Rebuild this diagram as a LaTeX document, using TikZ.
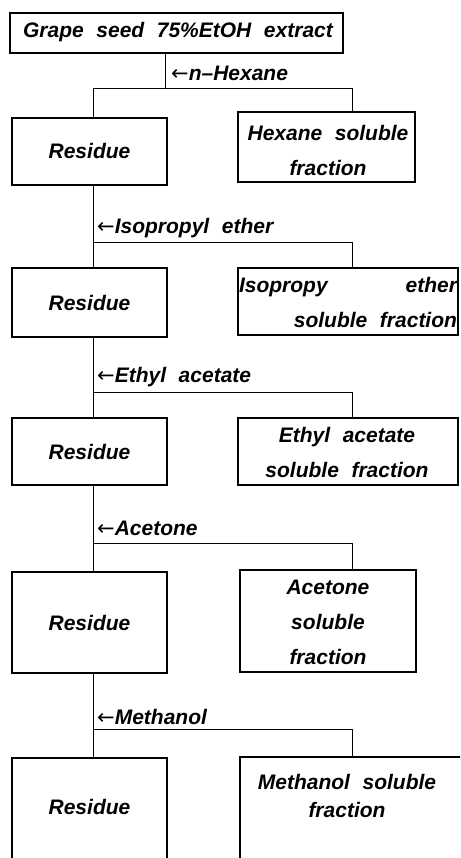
\documentclass[tikz,border=0pt]{standalone}
\usepackage{fontspec}
\setmainfont{Liberation Sans}
\newfontfamily\arrfont{DejaVu Sans}
\newcommand{\larr}{{\arrfont\mdseries\upshape ←}}
\newcommand{\mytf}{\fontsize{21}{35}\selectfont\bfseries\itshape\spaceskip 0.6em\relax}
\newcommand{\mytfb}{\fontsize{21}{28}\selectfont\bfseries\itshape\spaceskip 0.6em\relax}
\begin{document}
\begin{tikzpicture}[x=1pt,y=-1pt,
  txt/.style={inner sep=0pt, font=\mytf},
  box/.style={draw, line width=1.5pt, inner sep=0pt},
  lab/.style={txt, anchor=west},
  conn/.style={line width=0.7pt}]
\useasboundingbox (0,0) rectangle (460,858);
\begin{scope}
\clip (0,0) rectangle (460,858);
% boxes
\node[box, minimum width=333pt, minimum height=40pt] (top) at (176.5,33) {};
\node[txt] (topt) at (178,32) {Grape seed 75\%EtOH extract};
\node[box, minimum width=155pt, minimum height=67pt] (r1) at (89.5,151.5) {};
\node[txt] (r1t) at (r1.center) {Residue};
\node[box, minimum width=177pt, minimum height=70pt] (f1) at (326.5,147) {};
\node[txt, align=center] (f1t) at (328,150) {Hexane soluble\\fraction};
\node[box, minimum width=155pt, minimum height=69pt] (r2) at (89.5,302.5) {};
\node[txt] (r2t) at (r2.center) {Residue};
\node[box, minimum width=220pt, minimum height=67pt] (f2) at (348,301.5) {};
\node[txt, text width=218pt, align=left] (f2t) at (348,302) {Isopropy\hfill ether\\\hfill soluble\hspace{12.6pt}fraction};
\node[box, minimum width=155pt, minimum height=67pt] (r3) at (89.5,451.5) {};
\node[txt] (r3t) at (r3.center) {Residue};
\node[box, minimum width=220pt, minimum height=67pt] (f3) at (348,451.5) {};
\node[txt, align=center] (f3t) at (347,452) {Ethyl acetate\\soluble fraction};
\node[box, minimum width=155pt, minimum height=101pt] (r4) at (89.5,622.5) {};
\node[txt] (r4t) at (r4.center) {Residue};
\node[box, minimum width=176pt, minimum height=102pt] (f4) at (328,621) {};
\node[txt, align=center] (f4t) at (328,622) {Acetone\\soluble\\fraction};
\node[box, minimum width=155pt, minimum height=110pt] (r5) at (89.5,813) {};
\node[txt] (r5t) at (89.5,807) {Residue};
\node[box, minimum width=230pt, minimum height=110pt] (f5) at (355,812) {};
\node[txt, align=center, font=\mytfb] (f5t) at (347,796) {Methanol soluble\\fraction};
% branch points
\coordinate (b1) at (165,88);
\coordinate (b2) at (93,242);
\coordinate (b3) at (93,392);
\coordinate (b4) at (93,543);
\coordinate (b5) at (93,729);
\coordinate (c1) at (352,88);
\coordinate (c2) at (352,242);
\coordinate (c3) at (352,392);
\coordinate (c4) at (352,543);
\coordinate (c5) at (352,729);
% connectors
\draw[conn] (top.south -| b1) -- (b1);
\draw[conn] (r1.north -| b2) |- (c1) -- (f1.north -| c1);
\draw[conn] (r1.south -| b2) -- (r2.north -| b2);
\draw[conn] (b2) -- (c2) -- (f2.north -| c2);
\draw[conn] (r2.south -| b3) -- (r3.north -| b3);
\draw[conn] (b3) -- (c3) -- (f3.north -| c3);
\draw[conn] (r3.south -| b4) -- (r4.north -| b4);
\draw[conn] (b4) -- (c4) -- (f4.north -| c4);
\draw[conn] (r4.south -| b5) -- (r5.north -| b5);
\draw[conn] (b5) -- (c5) -- (f5.north -| c5);
% labels
\node[lab] (l1) at (171,73) {\larr n–Hexane};
\node[lab] (l2) at (97,228) {\larr Isopropyl ether};
\node[lab] (l3) at (97,377) {\larr Ethyl acetate};
\node[lab] (l4) at (97,528) {\larr Acetone};
\node[lab] (l5) at (97,717) {\larr Methanol};
\end{scope}
\end{tikzpicture}
\end{document}
